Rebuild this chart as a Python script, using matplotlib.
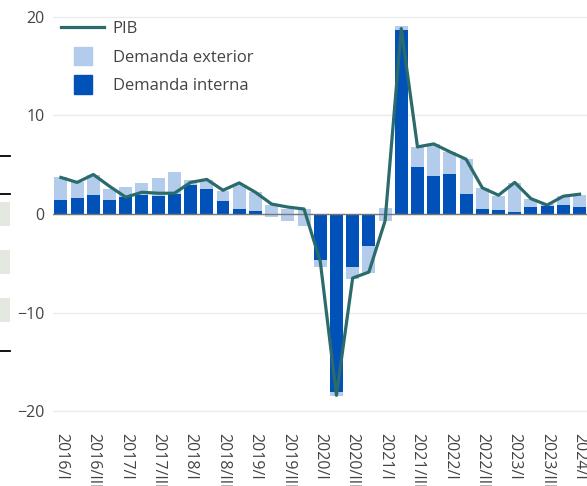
import matplotlib
matplotlib.use('Agg')
import matplotlib.pyplot as plt
from matplotlib.patches import Rectangle
from matplotlib.lines import Line2D
from matplotlib.legend_handler import HandlerPatch
import numpy as np

plt.rcParams['font.family'] = ['Open Sans', 'DejaVu Sans']

# Data (tasas de variación, %)
trimestres = ['2016/I', '2016/II', '2016/III', '2016/IV', '2017/I', '2017/II', '2017/III', '2017/IV',
              '2018/I', '2018/II', '2018/III', '2018/IV', '2019/I', '2019/II', '2019/III', '2019/IV',
              '2020/I', '2020/II', '2020/III', '2020/IV', '2021/I', '2021/II', '2021/III', '2021/IV',
              '2022/I', '2022/II', '2022/III', '2022/IV', '2023/I', '2023/II', '2023/III', '2023/IV',
              '2024/I']
pib = [3.7, 3.2, 4.0, 2.8, 1.7, 2.2, 2.1, 2.1, 3.2, 3.5, 2.4, 3.15, 2.2, 1.0, 0.7, 0.5,
       -4.8, -18.4, -6.5, -5.9, -0.7, 18.8, 6.8, 7.1, 6.3, 5.55, 2.65, 1.9, 3.2, 1.55, 0.9, 1.8,
       2.0]
demanda_interna = [1.4, 1.6, 1.9, 1.4, 1.7, 1.9, 1.8, 2.0, 2.9, 2.5, 1.3, 0.5, 0.3, -0.3, -0.7, -1.2,
                   -4.7, -18.1, -5.35, -3.3, 0.6, 18.7, 4.8, 3.85, 4.05, 2.0, 0.5, 0.4, 0.2, 0.7, 0.8, 0.9,
                   0.7]
demanda_exterior = [2.35, 1.6, 2.1, 1.1, 1.05, 1.2, 1.85, 2.25, 0.55, 0.95, 1.05, 2.4, 1.95, 1.2, 1.2, 1.7,
                    -0.65, -0.4, -1.2, -2.7, -1.3, 0.4, 2.0, 3.25, 2.25, 3.55, 2.15, 1.45, 2.95, 0.8, 0.2, 0.95,
                    1.25]

c_int = '#0051b8'
c_ext = '#b3cceb'
c_pib = '#2b6b6b'
c_txt = '#444444'

W, H = 587, 486
fig = plt.figure(figsize=(W / 100, H / 100), dpi=100)
ax = fig.add_axes([53 / W, (H - 420) / H, (W - 53) / W, 420 / H])

x = np.arange(len(trimestres))
ax.bar(x, demanda_interna, width=0.8, color=c_int, zorder=2)
# stacked on top of demanda interna (plotly "stack" style)
ax.bar(x, demanda_exterior, width=0.8, bottom=demanda_interna, color=c_ext, zorder=2.1)
ax.plot(x, pib, color=c_pib, lw=2.3, zorder=4)
ax.axhline(0, color='#777777', lw=1, zorder=3)

ax.set_xlim(-0.49, 32.46)
ax.set_ylim(-20.9, 21.7)
ax.set_yticks([-20, -10, 0, 10, 20])
ax.yaxis.grid(True, color='#ebebeb', lw=1)
ax.set_axisbelow(True)
ax.set_xticks(x[::2])
ax.set_xticklabels(trimestres[::2], rotation=-90, va='top', ha='center')
ax.tick_params(axis='both', length=0, colors=c_txt, labelsize=11.5)
ax.tick_params(axis='y', pad=6)
ax.tick_params(axis='x', pad=9)
for s in ax.spines.values():
    s.set_visible(False)


def square(legend, orig_handle, xdescent, ydescent, width, height, fontsize):
    s = 13
    return Rectangle((-xdescent + width / 2 - s / 2, -ydescent + height / 2 - s / 2), s, s)


handles = [Line2D([], [], color=c_pib, lw=2.3),
           Rectangle((0, 0), 1, 1, color=c_ext),
           Rectangle((0, 0), 1, 1, color=c_int)]
labels = ['PIB', 'Demanda exterior', 'Demanda interna']
leg = ax.legend(handles, labels,
                loc='upper left', bbox_to_anchor=(61 / W, 1 - 21 / H), bbox_transform=fig.transFigure,
                frameon=False, fontsize=12, handlelength=2.6, handletextpad=0.5,
                labelspacing=0.76, borderpad=0, borderaxespad=0,
                handler_map={Rectangle: HandlerPatch(patch_func=square)})
for t in leg.get_texts():
    t.set_color(c_txt)

# bits of neighbouring page content visible at the left edge
for yp in [156, 194, 351]:
    fig.add_artist(Line2D([0, 10 / W], [1 - yp / H] * 2, color='black', lw=1.3))
for yp in [202, 250, 298]:
    fig.add_artist(Rectangle((0, 1 - (yp + 24) / H), 10 / W, 24 / H, color='#e3e9e1', lw=0))

fig.savefig('out.png', dpi=100)
